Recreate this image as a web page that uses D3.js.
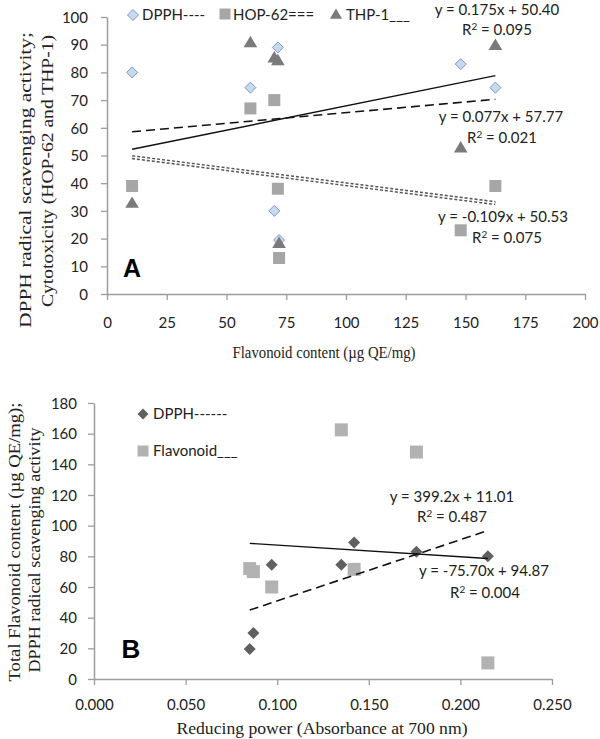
<!DOCTYPE html>
<html><head><meta charset="utf-8">
<script src="https://cdn.jsdelivr.net/npm/d3@7"></script>
<style>body{margin:0;background:#fff}svg{display:block}</style>
</head><body>
<script>
// ---- data (7 samples) ----
const flavonoid      = [10.5, 60, 70, 72, 71.5, 148, 162.5];
const dpph           = [80, 74.5, 30, 19.5, 89, 83, 74.5];
const hop62          = [39, 67, 70, 13, 38, 23, 39];
const thp1           = [33, 91, 85.5, 18.5, 84.5, 53, 90];
const reducingPower  = [0.215, 0.097, 0.087, 0.085, 0.142, 0.176, 0.135];

// trend lines panel A: DPPH (dashed), HOP-62 (double dotted), THP-1 (solid)
const trendASeries   = ["DPPH", "HOP-62", "THP-1"];
const trendASlope    = [0.077, -0.109, 0.175];
const trendAIntercept= [57.77, 50.53, 50.40];
const trendAR2       = ["0.021", "0.075", "0.095"];
// trend lines panel B: DPPH (solid), Flavonoid (dashed)
const trendBSeries   = ["DPPH", "Flavonoid"];
const trendBSlope    = [-75.70, 399.2];
const trendBIntercept= [94.87, 11.01];
const trendBR2       = ["0.004", "0.487"];

const xTicksA = [0, 25, 50, 75, 100, 125, 150, 175, 200];
const yTicksA = [0, 10, 20, 30, 40, 50, 60, 70, 80, 90, 100];
const xTicksB = [0, 0.05, 0.1, 0.15, 0.2, 0.25];
const yTicksB = [0, 20, 40, 60, 80, 100, 120, 140, 160, 180];

const SANS = "Lato, 'Open Sans', sans-serif";
const SERIF = "'Liberation Serif', 'Times New Roman', serif";
const AXIS = "#9d9d9d";

const svg = d3.select("body").append("svg").attr("width", 600).attr("height", 739);
svg.append("rect").attr("width", 600).attr("height", 739).attr("fill", "#fff");

function diamondPath(s){ return `M0,${-s}L${s},0L0,${s}L${-s},0Z`; }
function squarePath(s){ return `M${-s},${-s}H${s}V${s}H${-s}Z`; }
function trianglePath(s){ return `M0,${-s}L${s*1.1},${s*0.85}L${-s*1.1},${s*0.85}Z`; }

function drawAxes(g, x, y, xt, yt, xfmt, xTickLen, yTickLen, yLabGap, xLabY){
  const [x0, x1] = x.range(), [y0, y1] = y.range();
  const xa = d3.axisBottom(x).tickValues(xt).tickSize(xTickLen).tickSizeOuter(0).tickFormat(xfmt);
  const ax = g.append("g").attr("transform", `translate(0,${y0})`).call(xa);
  ax.select(".domain").attr("stroke", AXIS).attr("stroke-width", 1.5);
  ax.selectAll(".tick line").attr("stroke", AXIS).attr("stroke-width", 1.3);
  ax.selectAll(".tick text").attr("font-family", SANS).attr("font-size", 15).attr("fill", "#222")
    .attr("y", xLabY).attr("dy", "0.35em");
  const ya = d3.axisLeft(y).tickValues(yt).tickSize(yTickLen).tickSizeOuter(0);
  const ay = g.append("g").attr("transform", `translate(${x0},0)`).call(ya);
  ay.select(".domain").attr("stroke", AXIS).attr("stroke-width", 1.5);
  ay.selectAll(".tick line").attr("stroke", AXIS).attr("stroke-width", 1.3);
  ay.selectAll(".tick text").attr("font-family", SANS).attr("font-size", 15).attr("fill", "#222")
    .attr("x", -yLabGap).attr("dy", "0.35em");
}

function eq(m, b){
  return `y = ${m < 0 ? "-" : ""}${Math.abs(m).toFixed(3)}x + ${b.toFixed(2)}`;
}
function label(g, txt, cx, cy){
  g.append("text").attr("x", cx).attr("y", cy).attr("text-anchor", "middle").attr("dy", "0.35em")
    .attr("font-family", SANS).attr("font-size", 15).attr("fill", "#222").text(txt);
}
function r2label(g, val, cx, cy){
  const t = g.append("text").attr("x", cx).attr("y", cy).attr("text-anchor", "middle").attr("dy", "0.35em")
    .attr("font-family", SANS).attr("font-size", 15).attr("fill", "#222");
  t.append("tspan").text("R");
  t.append("tspan").attr("font-size", 10).attr("dy", "-0.55em").text("2");
  t.append("tspan").attr("dy", "0.35em").text(" = " + val);
}

// ================= Panel A =================
const gA = svg.append("g");
const xA = d3.scaleLinear().domain([0, 200]).range([107, 585]);
const yA = d3.scaleLinear().domain([0, 100]).range([294, 17]);
drawAxes(gA, xA, yA, xTicksA, yTicksA, d3.format("d"), 6, 6, 19, 29);

// markers
gA.selectAll(".dA").data(d3.range(flavonoid.length)).join("path")
  .attr("d", diamondPath(5.5)).attr("transform", i => `translate(${xA(flavonoid[i])},${yA(dpph[i])})`)
  .attr("fill", "#c6d9f1").attr("stroke", "#7f97bd").attr("stroke-width", 1);
gA.selectAll(".hA").data(d3.range(flavonoid.length)).join("path")
  .attr("d", squarePath(6)).attr("transform", i => `translate(${xA(flavonoid[i])},${yA(hop62[i])})`)
  .attr("fill", "#a6a6a6");
gA.selectAll(".tA").data(d3.range(flavonoid.length)).join("path")
  .attr("d", trianglePath(6.2)).attr("transform", i => `translate(${xA(flavonoid[i])},${yA(thp1[i])})`)
  .attr("fill", "#7a7a7a");

// trend lines
const fxMin = d3.min(flavonoid), fxMax = d3.max(flavonoid);
trendASeries.forEach((s, k) => {
  const pts = [fxMin, fxMax].map(v => [xA(v), yA(trendASlope[k] * v + trendAIntercept[k])]);
  const line = d3.line()(pts);
  if (s === "DPPH") {
    gA.append("path").attr("d", line).attr("stroke", "#111").attr("stroke-width", 1.6)
      .attr("stroke-dasharray", "9,5").attr("fill", "none");
  } else if (s === "HOP-62") {
    gA.append("path").attr("d", line).attr("stroke", "#555").attr("stroke-width", 4.2)
      .attr("stroke-dasharray", "3,2").attr("fill", "none");
    gA.append("path").attr("d", line).attr("stroke", "#fff").attr("stroke-width", 1.2).attr("fill", "none");
  } else {
    gA.append("path").attr("d", line).attr("stroke", "#111").attr("stroke-width", 1.4).attr("fill", "none");
  }
});

label(gA, eq(trendASlope[2], trendAIntercept[2]), 497, 10);
r2label(gA, trendAR2[2], 497, 30);
label(gA, eq(trendASlope[0], trendAIntercept[0]), 501, 117);
r2label(gA, trendAR2[0], 502, 138);
label(gA, eq(trendASlope[1], trendAIntercept[1]), 503, 217);
r2label(gA, trendAR2[1], 507, 238);

// legend A
gA.append("path").attr("d", diamondPath(5.5)).attr("transform", "translate(133,15)")
  .attr("fill", "#c6d9f1").attr("stroke", "#7f97bd");
gA.append("text").attr("x", 142).attr("y", 15).attr("dy", "0.35em").attr("font-family", SANS).attr("font-size", 15).attr("fill", "#222").text("DPPH----");
gA.append("path").attr("d", squarePath(5.5)).attr("transform", "translate(225,14)").attr("fill", "#a6a6a6");
gA.append("text").attr("x", 233).attr("y", 15).attr("dy", "0.35em").attr("font-family", SANS).attr("font-size", 15).attr("fill", "#222").text("HOP-62===");
gA.append("path").attr("d", trianglePath(5.5)).attr("transform", "translate(336,14)").attr("fill", "#7a7a7a");
gA.append("text").attr("x", 346).attr("y", 15).attr("dy", "0.35em").attr("font-family", SANS).attr("font-size", 15).attr("fill", "#222").text("THP-1___");

gA.append("text").attr("x", 132).attr("y", 268).attr("dy", "0.35em").attr("text-anchor", "middle")
  .attr("font-family", "'Liberation Sans', Arial, sans-serif").attr("font-weight", "bold").attr("font-size", 25).text("A");

// titles A
gA.append("text").attr("x", 324).attr("y", 352).attr("dy", "0.35em").attr("text-anchor", "middle")
  .attr("font-family", SERIF).attr("font-size", 16).attr("fill", "#222")
  .attr("textLength", 183).attr("lengthAdjust", "spacingAndGlyphs").text("Flavonoid content (µg QE/mg)");
gA.append("text").attr("transform", "translate(25,180) rotate(-90)").attr("dy", "0.35em").attr("text-anchor", "middle")
  .attr("font-family", SERIF).attr("font-size", 16).attr("fill", "#222")
  .attr("textLength", 296).attr("lengthAdjust", "spacingAndGlyphs").text("DPPH  radical  scavenging activity;");
gA.append("text").attr("transform", "translate(47,171) rotate(-90)").attr("dy", "0.35em").attr("text-anchor", "middle")
  .attr("font-family", SERIF).attr("font-size", 16).attr("fill", "#222")
  .attr("textLength", 272).attr("lengthAdjust", "spacingAndGlyphs").text("Cytotoxicity (HOP-62   and THP-1)");

// ================= Panel B =================
const gB = svg.append("g");
const xB = d3.scaleLinear().domain([0, 0.25]).range([94, 552]);
const yB = d3.scaleLinear().domain([0, 180]).range([679, 403]);
drawAxes(gB, xB, yB, xTicksB, yTicksB, d3.format(".3f"), 6, 6, 17, 26);

gB.selectAll(".dB").data(d3.range(reducingPower.length)).join("path")
  .attr("d", diamondPath(6)).attr("transform", i => `translate(${xB(reducingPower[i])},${yB(dpph[i])})`)
  .attr("fill", "#606060");
gB.selectAll(".fB").data(d3.range(reducingPower.length)).join("path")
  .attr("d", squarePath(6.5)).attr("transform", i => `translate(${xB(reducingPower[i])},${yB(flavonoid[i])})`)
  .attr("fill", "#b2b2b2");

const rMin = d3.min(reducingPower), rMax = d3.max(reducingPower);
trendBSeries.forEach((s, k) => {
  const pts = [rMin, rMax].map(v => [xB(v), yB(trendBSlope[k] * v + trendBIntercept[k])]);
  const p = gB.append("path").attr("d", d3.line()(pts)).attr("fill", "none").attr("stroke", "#111");
  if (s === "Flavonoid") p.attr("stroke-width", 1.6).attr("stroke-dasharray", "9,5");
  else p.attr("stroke-width", 1.4);
});

label(gB, "y = 399.2x + 11.01", 452, 497);
r2label(gB, trendBR2[1], 452, 517);
label(gB, "y = -75.70x + 94.87", 484, 571);
r2label(gB, trendBR2[0], 485, 593);

gB.append("path").attr("d", diamondPath(5.5)).attr("transform", "translate(143,414)").attr("fill", "#606060");
gB.append("text").attr("x", 153).attr("y", 414).attr("dy", "0.35em").attr("font-family", SANS).attr("font-size", 15).attr("fill", "#222").text("DPPH------");
gB.append("path").attr("d", squarePath(5.5)).attr("transform", "translate(143,451)").attr("fill", "#b2b2b2");
gB.append("text").attr("x", 153).attr("y", 451).attr("dy", "0.35em").attr("font-family", SANS).attr("font-size", 15).attr("fill", "#222").text("Flavonoid___");

gB.append("text").attr("x", 131).attr("y", 649).attr("dy", "0.35em").attr("text-anchor", "middle")
  .attr("font-family", "'Liberation Sans', Arial, sans-serif").attr("font-weight", "bold").attr("font-size", 26).text("B");

gB.append("text").attr("x", 322).attr("y", 728).attr("dy", "0.35em").attr("text-anchor", "middle")
  .attr("font-family", SERIF).attr("font-size", 16).attr("fill", "#222")
  .attr("textLength", 291).attr("lengthAdjust", "spacingAndGlyphs").text("Reducing power (Absorbance at 700 nm)");
gB.append("text").attr("transform", "translate(14,542) rotate(-90)").attr("dy", "0.35em").attr("text-anchor", "middle")
  .attr("font-family", SERIF).attr("font-size", 16).attr("fill", "#222")
  .attr("textLength", 279).attr("lengthAdjust", "spacingAndGlyphs").text("Total Flavonoid content (µg QE/mg);");
gB.append("text").attr("transform", "translate(34,550) rotate(-90)").attr("dy", "0.35em").attr("text-anchor", "middle")
  .attr("font-family", SERIF).attr("font-size", 16).attr("fill", "#222")
  .attr("textLength", 245).attr("lengthAdjust", "spacingAndGlyphs").text("DPPH radical scavenging activity");
</script>
</body></html>
